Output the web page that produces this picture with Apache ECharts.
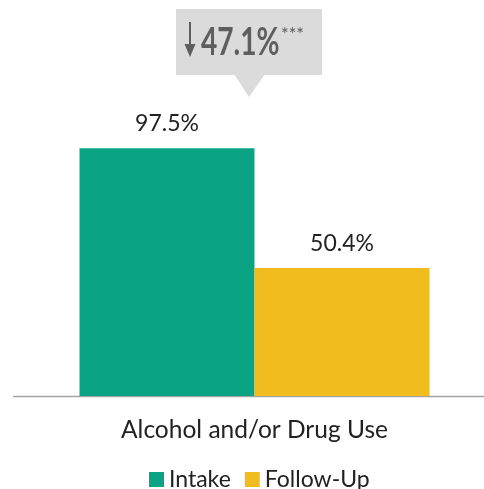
<!DOCTYPE html>
<html>
<head>
<meta charset="utf-8">
<script src="https://cdn.jsdelivr.net/npm/echarts@6/dist/echarts.min.js"></script>
<style>
  html, body { margin: 0; padding: 0; background: #fff; }
  #chart { width: 484px; height: 489px; }
</style>
</head>
<body>
<div id="chart"></div>
<script>
// Share reporting alcohol and/or drug use, at intake vs. follow-up
const categories = ['Alcohol and/or Drug Use'];
const intakeValues = [97.5];
const followUpValues = [50.4];
const seriesNames = ['Intake', 'Follow-Up'];
const changeText = '47.1%';
const significance = '***';

const TEAL = '#0aa384';
const GOLD = '#f0bc1e';
const FONT = 'Lato';
const CALLOUT_INK = '#5e5e5e';

const chart = echarts.init(document.getElementById('chart'));

const labelStyle = {
  show: true,
  position: 'top',
  distance: 13,
  fontFamily: FONT,
  fontSize: 23,
  color: '#222',
  formatter: p => p.value.toFixed(1) + '%'
};

chart.setOption({
  animation: false,
  grid: { left: 25, right: 0, top: 142, bottom: 93 },
  xAxis: {
    type: 'category',
    data: categories,
    axisLine: { show: false },
    axisTick: { show: false },
    axisLabel: { margin: 22, fontFamily: FONT, fontSize: 24.5, color: '#222' }
  },
  yAxis: {
    type: 'value', min: 0, max: 100, show: false
  },
  legend: {
    left: 144, top: 463,
    itemWidth: 15, itemHeight: 15, itemGap: 14,
    icon: 'rect',
    textStyle: { fontFamily: FONT, fontSize: 23, color: '#222' },
    data: seriesNames
  },
  series: [
    {
      name: seriesNames[0], type: 'bar', data: intakeValues,
      barWidth: 175, barGap: '0%',
      itemStyle: { color: TEAL },
      label: labelStyle
    },
    {
      name: seriesNames[1], type: 'bar', data: followUpValues,
      barWidth: 175, barGap: '0%',
      itemStyle: { color: GOLD },
      label: labelStyle
    }
  ],
  graphic: [
    // baseline
    { type: 'line', shape: { x1: 13, y1: 396.5, x2: 484, y2: 396.5 },
      style: { stroke: '#a3a3a3', lineWidth: 1.5 } },
    // callout bubble
    { type: 'rect', shape: { x: 176, y: 9, width: 146, height: 66 },
      style: { fill: '#dcdbdc' } },
    { type: 'polygon', shape: { points: [[234, 74], [265, 74], [249, 97]] },
      style: { fill: '#dcdbdc' } },
    // thin down arrow
    { type: 'line', shape: { x1: 190, y1: 22, x2: 190, y2: 54 },
      style: { stroke: CALLOUT_INK, lineWidth: 2 } },
    { type: 'polygon', shape: { points: [[184.5, 44], [195.5, 44], [190, 57]] },
      style: { fill: CALLOUT_INK } },
    { type: 'text', x: 201, y: 43, scaleX: 0.74,
      style: { text: changeText, fontFamily: FONT, fontWeight: 'bold', fontSize: 38,
               fill: CALLOUT_INK, verticalAlign: 'middle' } },
    { type: 'text', x: 281, y: 35, scaleX: 0.9,
      style: { text: significance, fontFamily: FONT, fontSize: 20, fill: CALLOUT_INK,
               verticalAlign: 'middle' } }
  ]
});
</script>
</body>
</html>
